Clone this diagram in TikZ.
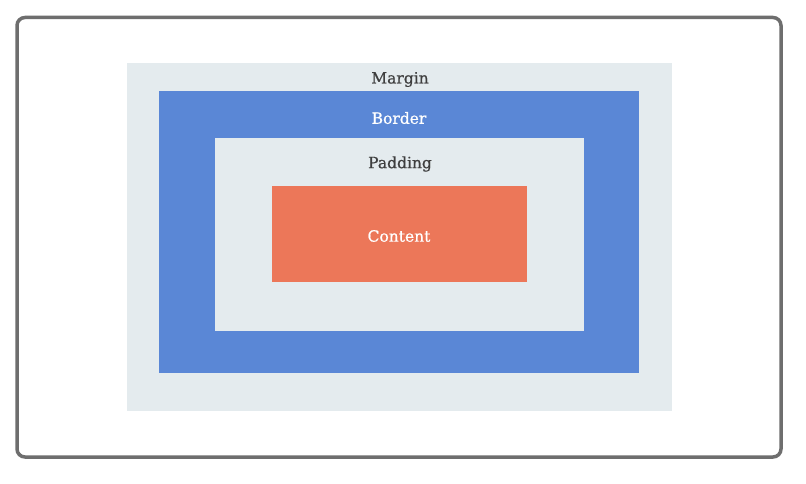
\documentclass[tikz,border=0pt]{standalone}
\usepackage{fontspec}
\newfontfamily\lblfont{DejaVu Serif}[FakeBold=0.7]
\definecolor{marginc}{HTML}{E4EBEE}
\definecolor{borderc}{HTML}{5A87D6}
\definecolor{contentc}{HTML}{EC7759}
\definecolor{framec}{HTML}{6E6E6E}
\definecolor{textc}{HTML}{3E3E3E}
\begin{document}
\begin{tikzpicture}[x=1pt,y=-1pt,
  layer/.style={draw=none,anchor=north west,inner sep=0pt,outer sep=0pt},
  lbl/.style={font=\lblfont\fontsize{15.5}{18}\selectfont,inner sep=0pt}]
\useasboundingbox (0,0) rectangle (806,484);
\fill[white] (0,0) rectangle (806,484);
\draw[framec,line width=3.5pt,rounded corners=8pt,fill=white] (17,17.5) rectangle (781,457);
\node[layer,fill=marginc,minimum width=545pt,minimum height=348pt] (margin) at (127,63) {};
\node[layer,fill=borderc,minimum width=480pt,minimum height=282pt] (border) at (159,91) {};
\node[layer,fill=marginc,minimum width=369pt,minimum height=193pt] (padding) at (215,138) {};
\node[layer,fill=contentc,minimum width=255pt,minimum height=96pt] (content) at (272,186) {};
\node[lbl,text=textc] (tm) at (400,79.5) {Margin};
\node[lbl,text=white] (tb) at (399,118) {Border};
\node[lbl,text=textc] (tp) at (400,164) {Padding};
\node[lbl,text=white] (tc) at (399,236) {Content};
\end{tikzpicture}
\end{document}
